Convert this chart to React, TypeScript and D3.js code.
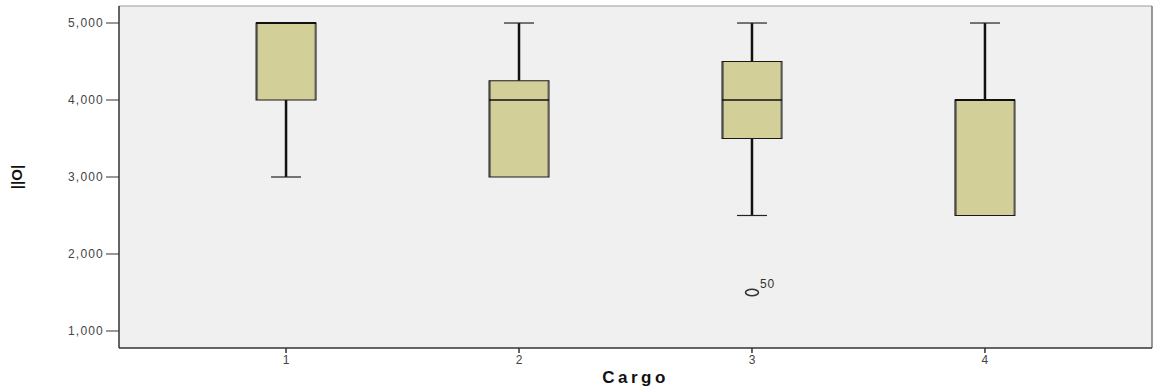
import React from "react";
import * as d3 from "d3";

// Category labels along the x axis
const categories = ["1", "2", "3", "4"];
// Five-number summaries per category
const whiskerLow = [3000, 3000, 2500, 2500];
const q1 = [4000, 3000, 3500, 2500];
const median = [5000, 4000, 4000, 4000];
const q3 = [5000, 4250, 4500, 4000];
const whiskerHigh = [5000, 5000, 5000, 5000];
// Outliers: category, value, case label
const outlierCategory = ["3"];
const outlierValue = [1500];
const outlierLabel = ["50"];
// Y axis ticks
const yTicks = [1000, 2000, 3000, 4000, 5000];

const W = 1153;
const H = 387;
const left = 119;
const right = 1152;
const top = 6;
const bottom = 348;

export default function App() {
  const y = d3.scaleLinear().domain([779, 5221]).range([bottom, top]);
  const x = d3.scalePoint<string>().domain(categories).range([left, right]).padding(0.717);
  const fmt = d3.format(",");
  const boxW = 60;
  const capW = 30;
  const fill = "#d3cf98";

  return (
    <svg
      width={W}
      height={H}
      style={{ position: "absolute", left: 0, top: 0, fontFamily: "Arial, 'Liberation Sans', sans-serif" }}
    >
      <rect x={0} y={0} width={W} height={H} fill="#ffffff" />
      <rect x={left} y={top} width={right - left} height={bottom - top} fill="#f0f0f0" />
      <line x1={left} x2={right} y1={top} y2={top} stroke="#9a9a9a" strokeWidth={1} />
      <line x1={right} x2={right} y1={top} y2={bottom} stroke="#777" strokeWidth={1.5} />

      {categories.map((c, i) => {
        const cx = x(c)!;
        const yLo = y(whiskerLow[i]);
        const yHi = y(whiskerHigh[i]);
        const yQ1 = y(q1[i]);
        const yQ3 = y(q3[i]);
        const yMed = y(median[i]);
        return (
          <g key={c}>
            {/* whiskers */}
            {whiskerLow[i] < q1[i] && (
              <>
                <line x1={cx} x2={cx} y1={yQ1} y2={yLo} stroke="#111" strokeWidth={2.5} />
                <line x1={cx - capW / 2} x2={cx + capW / 2} y1={yLo} y2={yLo} stroke="#222" strokeWidth={1.2} />
              </>
            )}
            {whiskerHigh[i] > q3[i] && (
              <>
                <line x1={cx} x2={cx} y1={yQ3} y2={yHi} stroke="#111" strokeWidth={2.5} />
                <line x1={cx - capW / 2} x2={cx + capW / 2} y1={yHi} y2={yHi} stroke="#222" strokeWidth={1.2} />
              </>
            )}
            {/* box with a soft shadow along its sides */}
            <rect x={cx - boxW / 2} y={yQ3} width={boxW} height={yQ1 - yQ3} fill={fill} />
            <line x1={cx - boxW / 2 + 1} x2={cx - boxW / 2 + 1} y1={yQ3} y2={yQ1} stroke="#7a7a6a" strokeWidth={2} />
            <line x1={cx + boxW / 2 - 1} x2={cx + boxW / 2 - 1} y1={yQ3} y2={yQ1} stroke="#8a8a78" strokeWidth={1.5} />
            <rect
              x={cx - boxW / 2}
              y={yQ3}
              width={boxW}
              height={yQ1 - yQ3}
              fill="none"
              stroke="#1a1a1a"
              strokeWidth={1}
            />
            <line
              x1={cx - boxW / 2}
              x2={cx + boxW / 2}
              y1={yMed}
              y2={yMed}
              stroke="#111"
              strokeWidth={median[i] === q3[i] ? 2 : 1.5}
            />
          </g>
        );
      })}

      {outlierValue.map((v, i) => {
        const cx = x(outlierCategory[i])!;
        const cy = y(v);
        return (
          <g key={"o" + i}>
            <ellipse cx={cx} cy={cy} rx={6.5} ry={3.2} fill="none" stroke="#333" strokeWidth={1.5} />
            <text x={cx + 8} y={cy - 4} fontSize={12} fill="#333" letterSpacing={0.8}>
              {outlierLabel[i]}
            </text>
          </g>
        );
      })}

      {/* y axis */}
      <line x1={left} x2={left} y1={top} y2={bottom} stroke="#333" strokeWidth={1.5} />
      {yTicks.map((t) => (
        <g key={t}>
          <line x1={106} x2={left} y1={y(t)} y2={y(t)} stroke="#333" strokeWidth={1} />
          <text x={104} y={y(t)} dy="0.35em" textAnchor="end" fontSize={12} fill="#444" letterSpacing={1.2}>
            {fmt(t)}
          </text>
        </g>
      ))}
      <text
        transform={`translate(22,177) rotate(-90)`}
        textAnchor="middle"
        fontSize={15}
        fontWeight="bold"
        fill="#111"
      >
        ||O|
      </text>

      {/* x axis */}
      <line x1={left} x2={right} y1={bottom} y2={bottom} stroke="#333" strokeWidth={1.5} />
      {categories.map((c) => (
        <g key={"t" + c}>
          <line x1={x(c)!} x2={x(c)!} y1={bottom} y2={bottom + 5} stroke="#333" strokeWidth={1.5} />
          <text x={x(c)!} y={bottom + 16} textAnchor="middle" fontSize={12} fill="#444">
            {c}
          </text>
        </g>
      ))}
      <text x={(left + right) / 2} y={383} textAnchor="middle" fontSize={17} fontWeight="bold" fill="#111" letterSpacing={3.5}>
        Cargo
      </text>
    </svg>
  );
}
